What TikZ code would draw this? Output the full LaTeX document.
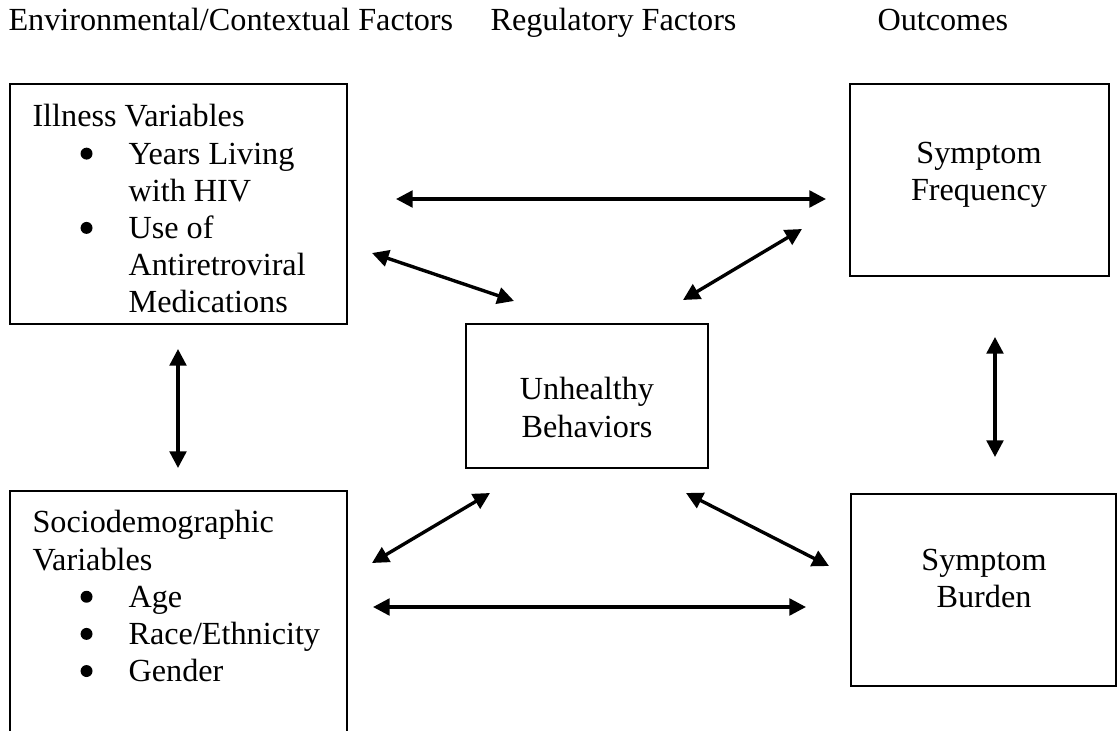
\documentclass[tikz,border=0pt]{standalone}
\usepackage{fontspec}
\setmainfont{Liberation Serif}
\usetikzlibrary{arrows.meta,fit}
\begin{document}
\begin{tikzpicture}[x=0.385pt,y=-0.385pt,
  box/.style={draw,line width=0.8pt,inner sep=0pt},
  txt/.style={inner sep=0pt,font=\fontsize{12.4pt}{14.3pt}\selectfont},
  link/.style={line width=1.3pt,{Triangle[length=6.4pt,width=6.4pt]}-{Triangle[length=6.4pt,width=6.4pt]}}]
\newcommand{\bdot}{\tikz[baseline=0pt,x=1pt,y=1pt]\fill (0pt,4.0pt) circle[radius=2.3pt];}
\newcommand{\bul}[1]{\makebox[37pt][l]{\hspace{18.5pt}\bdot}#1}
\newcommand{\cont}[1]{\hspace*{37pt}#1}
\clip (0,0) rectangle (1118,731);
% headings
\node[txt,anchor=base west] (h1) at (8,31) {Environmental/Contextual Factors};
\node[txt,anchor=base west] (h2) at (490,31) {Regulatory Factors};
\node[txt,anchor=base west] (h3) at (877,31) {Outcomes};
% boxes
\node[box,fit={(10,84) (347,324)}] (ill) {};
\node[box,fit={(10,491) (347,760)}] (soc) {};
\node[box,fit={(466,324) (708,468)}] (unh) {};
\node[box,fit={(850,84) (1109,276)}] (freq) {};
\node[box,fit={(851,494) (1116,686)}] (bur) {};
% texts
\node[txt,anchor=north west,align=left] (illt) at (32,104) {Illness Variables\\\bul{Years Living}\\\cont{with HIV}\\\bul{Use of}\\\cont{Antiretroviral}\\\cont{Medications}};
\node[txt,anchor=north west,align=left] (soct) at (32,510) {Sociodemographic\\Variables\\\bul{Age}\\\bul{Race/Ethnicity}\\\bul{Gender}};
\node[txt,anchor=north,align=center] (unht) at (587,377) {Unhealthy\\Behaviors};
\node[txt,anchor=north,align=center] (freqt) at (979,142) {Symptom\\Frequency};
\node[txt,anchor=north,align=center] (burt) at (984,549) {Symptom\\Burden};
% connector ends
\coordinate (a1) at (396,199); \coordinate (a2) at (826,199);
\coordinate (b1) at (372,253); \coordinate (b2) at (514,301);
\coordinate (c1) at (802,229); \coordinate (c2) at (683,300);
\coordinate (d1) at (178,349); \coordinate (d2) at (178,468);
\coordinate (e1) at (995,337); \coordinate (e2) at (995,457);
\coordinate (f1) at (372,563); \coordinate (f2) at (490,493);
\coordinate (g1) at (686,493); \coordinate (g2) at (829,566);
\coordinate (k1) at (373,607); \coordinate (k2) at (806,607);
\draw[link] (a1) -- (a2);
\draw[link] (b1) -- (b2);
\draw[link] (c1) -- (c2);
\draw[link] (d1) -- (d2);
\draw[link] (e1) -- (e2);
\draw[link] (f1) -- (f2);
\draw[link] (g1) -- (g2);
\draw[link] (k1) -- (k2);
\end{tikzpicture}
\end{document}
